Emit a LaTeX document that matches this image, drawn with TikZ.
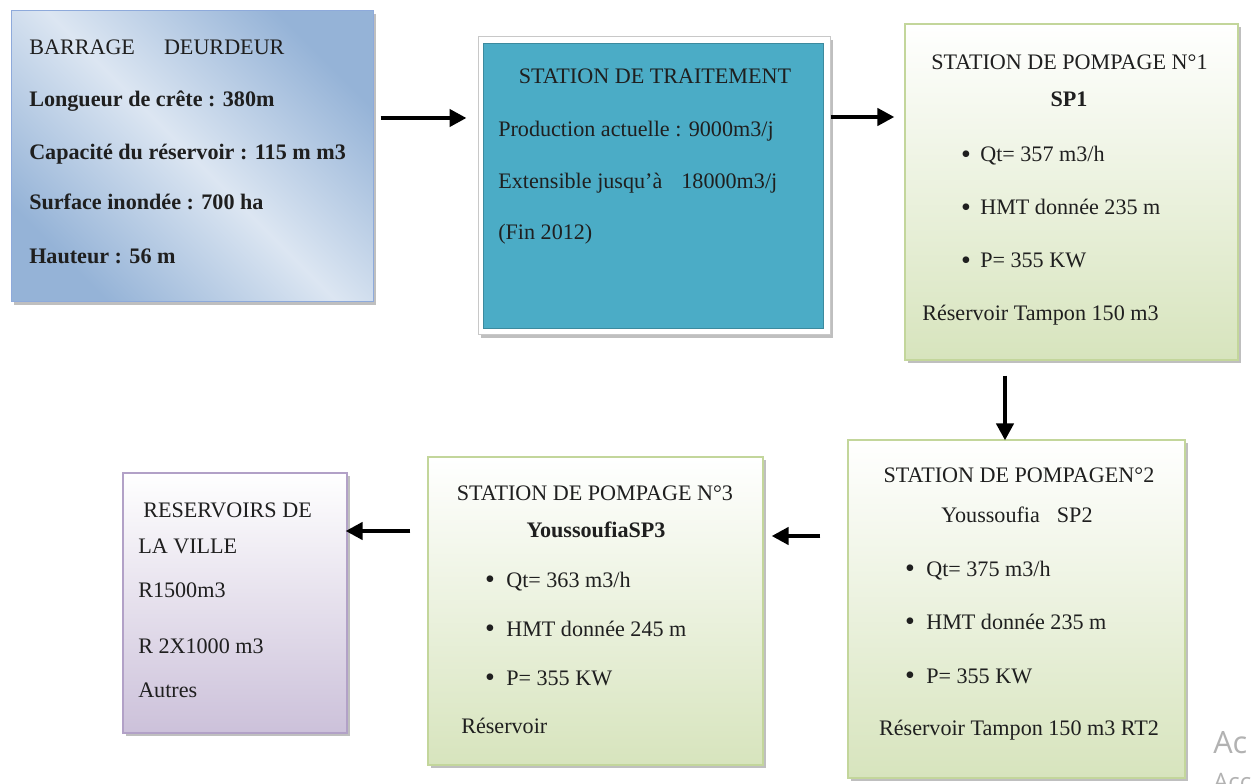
\documentclass[tikz,border=0pt]{standalone}
\usepackage{fontspec}
\setmainfont{Liberation Serif}
\newfontfamily\wmfont{Open Sans}
\usetikzlibrary{arrows.meta,shadows}
\definecolor{bluedark}{HTML}{95B3D7}
\definecolor{bluelight}{HTML}{DCE6F2}
\definecolor{blueborder}{HTML}{8EAADB}
\definecolor{tealfill}{HTML}{4BACC6}
\definecolor{greenfill}{HTML}{D7E4BD}
\definecolor{greenborder}{HTML}{C3D69B}
\definecolor{lavfill}{HTML}{CCC1DA}
\definecolor{lavborder}{HTML}{B2A1C7}
\definecolor{framegray}{HTML}{C8C8C8}
\tikzset{
  boxshadow/.style={drop shadow={shadow xshift=2.25pt, shadow yshift=-2.25pt, fill=black!45, opacity=0.55}},
  bluebox/.style={rectangle, draw=blueborder, line width=0.75pt, boxshadow,
    top color=bluedark, bottom color=bluedark, middle color=bluelight, shading angle=-45},
  frameouter/.style={rectangle, draw=framegray, line width=0.75pt, fill=white, boxshadow},
  tealbox/.style={rectangle, draw=tealfill!80!black, line width=0.45pt, fill=tealfill},
  greenbox/.style={rectangle, draw=greenborder, line width=0.9pt, boxshadow,
    top color=white, bottom color=greenfill},
  lavbox/.style={rectangle, draw=lavborder, line width=0.9pt, boxshadow,
    top color=white, bottom color=lavfill},
  txt/.style={anchor=base west, inner sep=0pt, text=black!88, font=\fontsize{16.6}{20}\selectfont},
  ctxt/.style={anchor=base, inner sep=0pt, text=black!88, font=\fontsize{16.6}{20}\selectfont},
  bul/.style={anchor=base, inner sep=0pt, text=black!88, font=\fontsize{21}{20}\selectfont},
  arr/.style={line width=3.4pt, -{Triangle[length=12.75pt,width=12.75pt]}},
  wm/.style={anchor=base west, inner sep=0pt, text=black!30, font=\wmfont\fontsize{23}{26}\selectfont}
}
\begin{document}
\begin{tikzpicture}[x=0.75pt,y=-0.75pt]
\fill[white] (0,0) rectangle (1254,784);
\useasboundingbox (0,0) rectangle (1254,784);

% boxes
\node[bluebox, minimum width=271.5pt, minimum height=218.25pt] (barrage) at (192,156.5) {};
\node[frameouter, minimum width=264pt, minimum height=223.5pt] (trait) at (654,186) {};
\node[tealbox, minimum width=255pt, minimum height=213.75pt] (traitin) at (653,185.5) {};
\node[greenbox, minimum width=249.75pt, minimum height=252pt] (sp1) at (1071.5,192) {};
\node[greenbox, minimum width=252.75pt, minimum height=253.5pt] (sp2) at (1016.5,609) {};
\node[greenbox, minimum width=251.25pt, minimum height=231pt] (sp3) at (595.5,611) {};
\node[lavbox, minimum width=168pt, minimum height=195pt] (res) at (235,603) {};

% barrage text
\node[txt] (b1) at (29,55) {BARRAGE\hspace{21.75pt}DEURDEUR};
\node[txt, font=\fontsize{16.6}{20}\selectfont\bfseries] (b2) at (29,107) {Longueur de crête : 380m};
\node[txt, font=\fontsize{16.6}{20}\selectfont\bfseries] (b3) at (29,160) {Capacité du réservoir : 115 m m3};
\node[txt, font=\fontsize{16.6}{20}\selectfont\bfseries] (b4) at (29,210) {Surface inondée : 700 ha};
\node[txt, font=\fontsize{16.6}{20}\selectfont\bfseries] (b5) at (29,264) {Hauteur : 56 m};

% traitement text
\node[ctxt] (t1) at (655,84) {STATION DE TRAITEMENT};
\node[txt] (t2) at (498,137) {Production actuelle : 9000m3/j};
\node[txt] (t3) at (498,189) {Extensible jusqu’à\hspace{14.25pt}18000m3/j};
\node[txt] (t4) at (498,240) {(Fin 2012)};

% SP1 text
\node[ctxt] (s1a) at (1069.5,70) {STATION DE POMPAGE N°1};
\node[ctxt, font=\fontsize{16.6}{20}\selectfont\bfseries] (s1b) at (1069,107) {SP1};
\node[bul] (s1c) at (966,163.5) {\textbullet};
\node[txt] (s1d) at (980,162) {Qt= 357 m3/h};
\node[bul] (s1e) at (966,216.5) {\textbullet};
\node[txt] (s1f) at (980,215) {HMT donnée 235 m};
\node[bul] (s1g) at (966,269.5) {\textbullet};
\node[txt] (s1h) at (980,268) {P= 355 KW};
\node[txt] (s1i) at (922,321) {Réservoir Tampon 150 m3};

% SP2 text
\node[ctxt] (s2a) at (1019,483) {STATION DE POMPAGEN°2};
\node[ctxt] (s2b) at (1017,522) {Youssoufia\hspace{12.75pt}SP2};
\node[bul] (s2c) at (910,577.5) {\textbullet};
\node[txt] (s2d) at (926,576) {Qt= 375 m3/h};
\node[bul] (s2e) at (910,630.5) {\textbullet};
\node[txt] (s2f) at (926,629) {HMT donnée 235 m};
\node[bul] (s2g) at (910,684.5) {\textbullet};
\node[txt] (s2h) at (926,683) {P= 355 KW};
\node[ctxt] (s2i) at (1019,735) {Réservoir Tampon 150 m3 RT2};

% SP3 text
\node[ctxt] (s3a) at (595,500) {STATION DE POMPAGE N°3};
\node[ctxt, font=\fontsize{16.6}{20}\selectfont\bfseries] (s3b) at (596,537) {YoussoufiaSP3};
\node[bul] (s3c) at (490,588.5) {\textbullet};
\node[txt] (s3d) at (506,587) {Qt= 363 m3/h};
\node[bul] (s3e) at (490,637.5) {\textbullet};
\node[txt] (s3f) at (506,636) {HMT donnée 245 m};
\node[bul] (s3g) at (490,686.5) {\textbullet};
\node[txt] (s3h) at (506,685) {P= 355 KW};
\node[txt] (s3i) at (461,733) {Réservoir};

% reservoirs text
\node[txt] (r1) at (143,517) {RESERVOIRS DE};
\node[txt] (r2) at (138,553) {LA VILLE};
\node[txt] (r3) at (138,597) {R1500m3};
\node[txt] (r4) at (138,653) {R 2X1000 m3};
\node[txt] (r5) at (138,697) {Autres};

% arrows
\draw[arr] ([shift={(7,-38.5)}]barrage.east) -- ([shift={(-11,-68)}]trait.west);
\draw[arr] ([shift={(0,-69)}]trait.east) -- ([shift={(-10,-75)}]sp1.west);
\draw[arr] ([shift={(-66.5,15)}]sp1.south) -- ([shift={(-11.5,1)}]sp2.north);
\draw[arr] ([shift={(-27,-73)}]sp2.west) -- ([shift={(8,-75)}]sp3.east);
\draw[arr] ([shift={(-17,-80)}]sp3.west) -- ([shift={(-2,-72)}]res.east);

% watermark fragment
\node[wm] (w1) at (1213,753) {Ac};
\node[wm, font=\wmfont\fontsize{18}{20}\selectfont] (w2) at (1213,790) {Acc};
\end{tikzpicture}
\end{document}
